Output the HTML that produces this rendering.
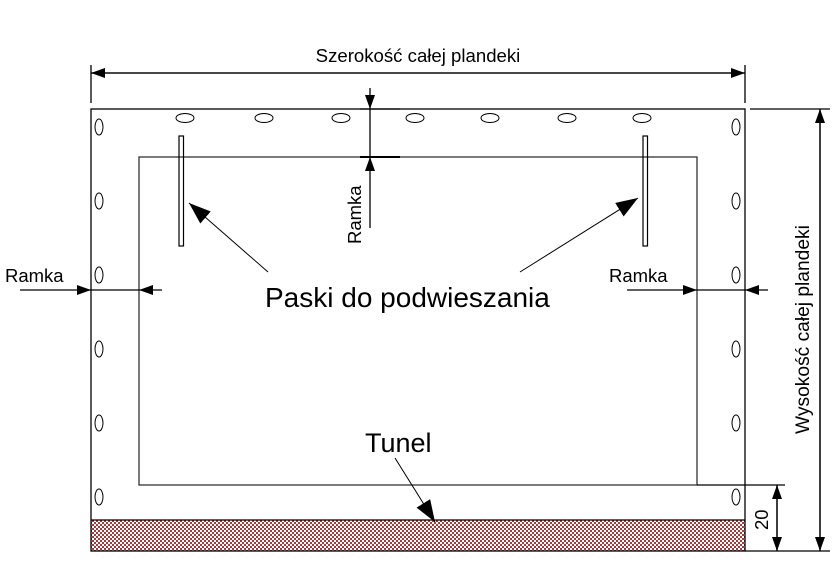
<!DOCTYPE html>
<html><head><meta charset="utf-8"><style>
html,body{margin:0;padding:0;background:#fff}
svg{display:block}
text{font-family:"Liberation Sans",sans-serif;fill:#000}
</style></head><body>
<svg width="836" height="574" viewBox="0 0 836 574" xmlns="http://www.w3.org/2000/svg">
<defs>
<pattern id="h" width="4" height="4" patternUnits="userSpaceOnUse">
<rect width="4" height="4" fill="#fff"/>
<rect x="0" y="0" width="2" height="2" fill="#a83a3a"/>
<rect x="2" y="2" width="2" height="2" fill="#a83a3a"/>
</pattern>
<marker id="a" markerWidth="14" markerHeight="10" refX="14" refY="5" orient="auto" markerUnits="userSpaceOnUse">
<path d="M0,0 L14,5 L0,10 z" fill="#000"/>
</marker>
<marker id="b" markerWidth="22" markerHeight="16" refX="22" refY="8" orient="auto" markerUnits="userSpaceOnUse">
<path d="M0,0 L22,8 L0,16 z" fill="#000"/>
</marker>
</defs>
<rect x="91" y="520" width="654" height="31" fill="url(#h)"/>
<g stroke="#000" stroke-width="1.3" fill="none">
<rect x="91" y="109" width="654" height="442"/>
<line x1="91" y1="520" x2="745" y2="520"/>
<rect x="139" y="157" width="558" height="328" stroke="#333"/>
<line x1="91" y1="65" x2="91" y2="103"/>
<line x1="745" y1="65" x2="745" y2="103"/>
<line x1="91" y1="73" x2="745" y2="73" marker-end="url(#a)"/>
<line x1="745" y1="73" x2="91" y2="73" marker-end="url(#a)"/>
<line x1="750" y1="109" x2="830" y2="109"/>
<line x1="745" y1="551" x2="830" y2="551"/>
<line x1="820" y1="109" x2="820" y2="551" marker-end="url(#a)"/>
<line x1="820" y1="551" x2="820" y2="109" marker-end="url(#a)"/>
<line x1="697" y1="485" x2="785" y2="485"/>
<line x1="777" y1="485" x2="777" y2="551" marker-end="url(#a)"/>
<line x1="777" y1="551" x2="777" y2="485" marker-end="url(#a)"/>
<line x1="360" y1="109" x2="400" y2="109"/>
<line x1="360" y1="157" x2="400" y2="157" stroke-width="2"/>
<line x1="370" y1="88" x2="370" y2="109" marker-end="url(#a)"/>
<line x1="370" y1="109" x2="370" y2="157"/>
<line x1="370" y1="228" x2="370" y2="157" marker-end="url(#a)"/>
<line x1="20" y1="290" x2="91" y2="290" marker-end="url(#a)"/>
<line x1="91" y1="290" x2="139" y2="290"/>
<line x1="162" y1="290" x2="139" y2="290" marker-end="url(#a)"/>
<line x1="627" y1="290" x2="697" y2="290" marker-end="url(#a)"/>
<line x1="697" y1="290" x2="745" y2="290"/>
<line x1="768" y1="290" x2="745" y2="290" marker-end="url(#a)"/>
<rect x="179" y="136" width="4.5" height="110" stroke-width="1.2"/>
<rect x="643" y="136" width="4.5" height="110" stroke-width="1.2"/>
<line x1="268" y1="272" x2="189" y2="203" marker-end="url(#b)" stroke-width="1"/>
<line x1="520" y1="272" x2="638" y2="198" marker-end="url(#b)" stroke-width="1"/>
<line x1="395" y1="458" x2="435" y2="522" marker-end="url(#b)" stroke-width="1"/>
</g>
<g stroke="#000" stroke-width="1" fill="none">
<ellipse cx="185" cy="118" rx="9" ry="4.5"/>
<ellipse cx="264" cy="118" rx="9" ry="4.5"/>
<ellipse cx="341" cy="118" rx="9" ry="4.5"/>
<ellipse cx="415" cy="118" rx="9" ry="4.5"/>
<ellipse cx="490" cy="118" rx="9" ry="4.5"/>
<ellipse cx="567" cy="118" rx="9" ry="4.5"/>
<ellipse cx="642" cy="118" rx="9" ry="4.5"/>
<ellipse cx="99" cy="127" rx="4" ry="8"/>
<ellipse cx="99" cy="201" rx="4" ry="8"/>
<ellipse cx="99" cy="275" rx="4" ry="8"/>
<ellipse cx="99" cy="349" rx="4" ry="8"/>
<ellipse cx="99" cy="423" rx="4" ry="8"/>
<ellipse cx="99" cy="497" rx="4" ry="8"/>
<ellipse cx="736" cy="127" rx="4" ry="8"/>
<ellipse cx="736" cy="201" rx="4" ry="8"/>
<ellipse cx="736" cy="275" rx="4" ry="8"/>
<ellipse cx="736" cy="349" rx="4" ry="8"/>
<ellipse cx="736" cy="423" rx="4" ry="8"/>
<ellipse cx="736" cy="497" rx="4" ry="8"/>
</g>
<text x="418" y="62" font-size="18.6" text-anchor="middle">Szerokość całej plandeki</text>
<text x="5" y="282" font-size="18.5">Ramka</text>
<text x="609" y="282" font-size="18.5">Ramka</text>
<text transform="translate(361,244) rotate(-90)" font-size="18.5">Ramka</text>
<text transform="translate(809,434) rotate(-90)" font-size="19.2">Wysokość całej plandeki</text>
<text transform="translate(768,530) rotate(-90)" font-size="18.5">20</text>
<text x="265" y="307" font-size="28">Paski do podwieszania</text>
<text x="365" y="452" font-size="27">Tunel</text>
</svg>
</body></html>
